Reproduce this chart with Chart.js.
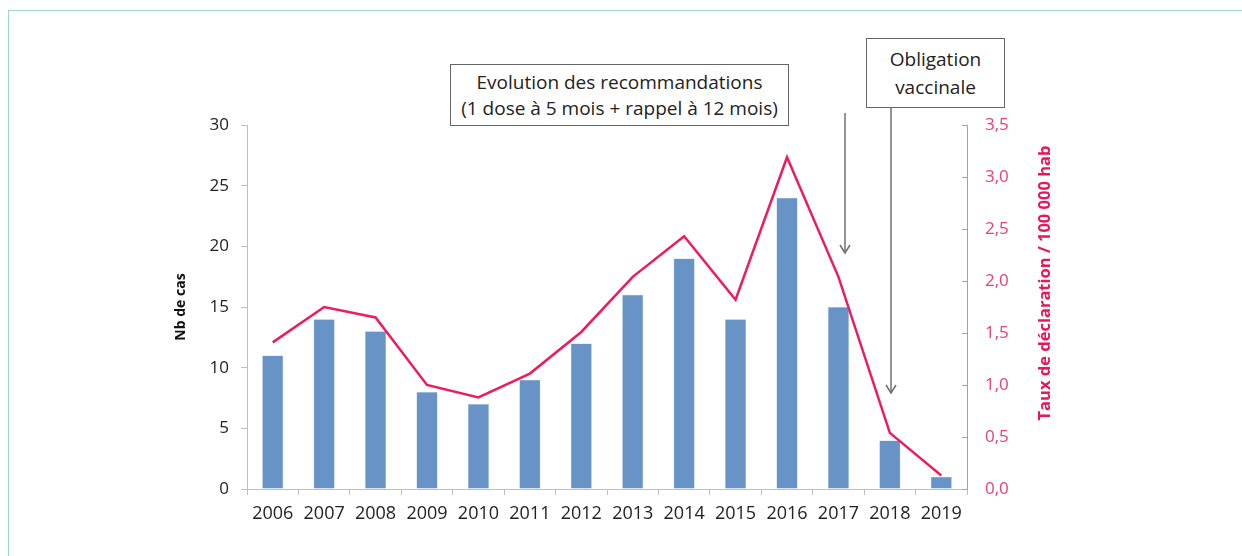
<!DOCTYPE html>
<html lang="fr">
<head>
<meta charset="utf-8">
<script src="https://cdn.jsdelivr.net/npm/chart.js@4/dist/chart.umd.min.js"></script>
<style>
    body { margin: 0; width: 1242px; height: 556px; overflow: hidden; background: #fff; font-family: "Open Sans", sans-serif; }
    #cadre { position: absolute; left: 8px; top: 10px; width: 1400px; height: 700px; border-left: 1.5px solid #9dd6ca; border-top: 1.5px solid #9dd6ca; }
    #zone { position: absolute; left: 0; top: 0; width: 1242px; height: 556px; }
    .boite { position: absolute; box-sizing: border-box; border: 1px solid #666; background: #fff; color: #222; text-align: center; font-size: 19px; }
    #titreDroite { position: absolute; left: 1043px; top: 283px; transform: translate(-50%, -50%) rotate(-90deg); white-space: nowrap; font-weight: bold; font-size: 16.5px; color: #e5175e; }
    svg { position: absolute; left: 0; top: 0; }
</style>
</head>
<body>
<div id="cadre"></div>
<div id="zone"><canvas id="grafico" width="1242" height="556"></canvas></div>

<div class="boite" style="left:450px; top:64px; width:339px; height:62px; line-height:26px; padding-top:4px;">
    Evolution des recommandations<br>(1 dose à 5 mois + rappel à 12 mois)
</div>
<div class="boite" style="left:866px; top:38px; width:139px; height:70px; line-height:28px; padding-top:6px;">
    Obligation<br>vaccinale
</div>
<div id="titreDroite">Taux de déclaration / 100 000 hab</div>

<svg width="1242" height="556">
    <g stroke="#707070" stroke-width="1.5" fill="none">
        <line x1="845" y1="113" x2="845" y2="253"/>
        <polyline points="840,245 845,253 850,245"/>
        <line x1="891" y1="108" x2="891" y2="393"/>
        <polyline points="886,385 891,393 896,385"/>
    </g>
</svg>

<script>
// Données
const annees = ['2006', '2007', '2008', '2009', '2010', '2011', '2012', '2013', '2014', '2015', '2016', '2017', '2018', '2019'];
const nbCas = [11, 14, 13, 8, 7, 9, 12, 16, 19, 14, 24, 15, 4, 1];
const tauxDeclaration = [1.41, 1.75, 1.65, 1.0, 0.88, 1.11, 1.51, 2.04, 2.43, 1.82, 3.19, 2.04, 0.54, 0.13];

const rose = '#ec1c64';

// petites graduations du côté intérieur de l'axe de droite
const ticksInterieurs = {
    id: 'ticksInterieurs',
    afterDraw(chart) {
        const s = chart.scales.y1;
        const ctx = chart.ctx;
        ctx.save();
        ctx.strokeStyle = '#f27ba3';
        ctx.lineWidth = 1;
        ctx.beginPath();
        s.ticks.forEach(t => {
            const y = Math.round(s.getPixelForValue(t.value)) + 0.5;
            ctx.moveTo(s.left, y);
            ctx.lineTo(s.left - 5, y);
        });
        ctx.stroke();
        ctx.restore();
    }
};

Chart.defaults.font.family = '"Open Sans", sans-serif';
Chart.defaults.color = '#333';

new Chart(document.querySelector('#grafico'), {
    type: 'bar',
    data: {
        labels: annees,
        datasets: [
            {
                type: 'line',
                label: 'Taux de déclaration',
                data: tauxDeclaration,
                yAxisID: 'y1',
                borderColor: rose,
                borderWidth: 2.5,
                pointRadius: 0,
                tension: 0,
                order: 0
            },
            {
                label: 'Nb de cas',
                data: nbCas,
                yAxisID: 'y',
                backgroundColor: '#6893c6',
                borderColor: '#a9c2e0',
                borderWidth: 0.5,
                barPercentage: 0.41,
                categoryPercentage: 1,
                order: 1
            }
        ]
    },
    options: {
        responsive: false,
        animation: false,
        layout: { padding: { left: 169, right: 215, top: 125, bottom: 0 } },
        plugins: {
            legend: { display: false },
            tooltip: { enabled: false }
        },
        scales: {
            x: {
                grid: { drawOnChartArea: false, tickLength: 6, color: '#bfbfbf' },
                border: { color: '#bfbfbf' },
                ticks: { font: { size: 18 }, color: '#222', padding: 8, maxRotation: 0 },
                afterFit: s => { s.height = 67; }
            },
            y: {
                position: 'left',
                min: 0,
                max: 30,
                ticks: { stepSize: 5, font: { size: 17 }, color: '#222', padding: 12 },
                grid: { drawOnChartArea: false, tickLength: 6, color: '#bfbfbf' },
                border: { color: '#bfbfbf' },
                title: { display: true, text: 'Nb de cas', font: { size: 14, weight: 'bold' }, color: '#111', padding: 4 },
                afterFit: s => { s.width = 78; }
            },
            y1: {
                position: 'right',
                min: 0,
                max: 3.5,
                ticks: {
                    stepSize: 0.5,
                    font: { size: 17 },
                    color: '#e8407a',
                    padding: 18,
                    callback: v => v.toFixed(1).replace('.', ',')
                },
                grid: { drawOnChartArea: false, drawTicks: false },
                border: { color: '#f27ba3' },
                afterFit: s => { s.width = 60; }
            }
        }
    },
    plugins: [ticksInterieurs]
});
</script>
</body>
</html>
